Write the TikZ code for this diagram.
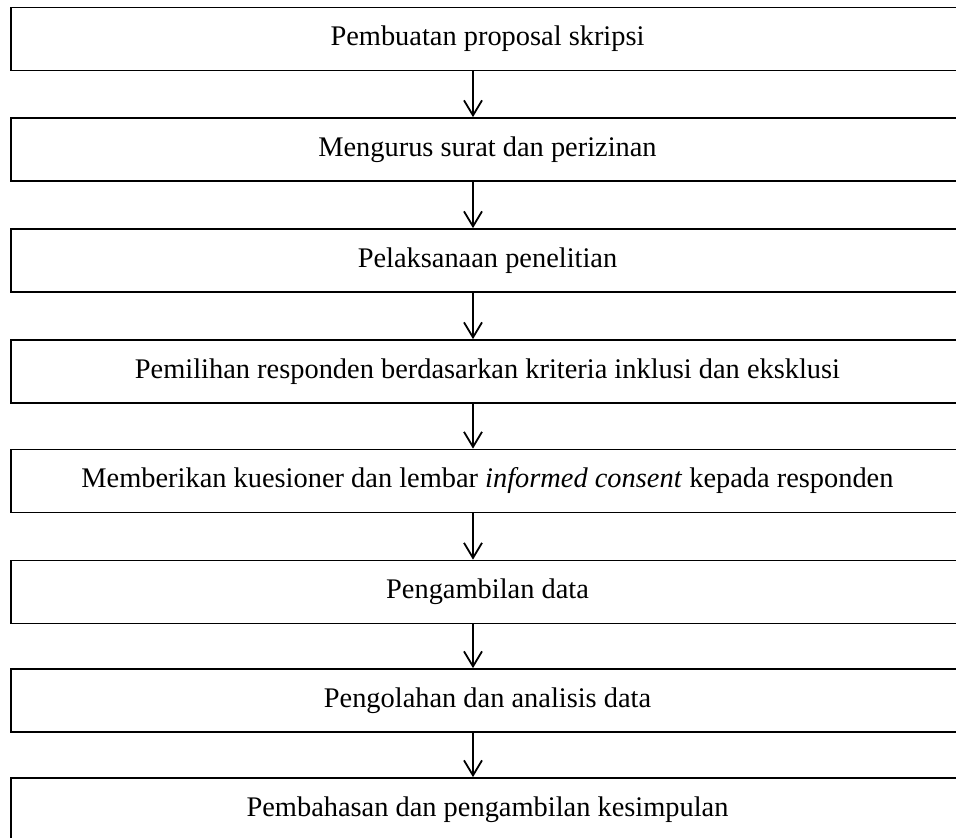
\documentclass[tikz,border=0pt]{standalone}
\usepackage{fontspec}
\setmainfont{Liberation Serif}
\usetikzlibrary{arrows.meta}
\begin{document}
\begin{tikzpicture}[x=1pt, y=-1pt, line width=1.8pt,
  stepbox/.style={shape=rectangle, draw, minimum width=953pt, minimum height=63pt,
    inner sep=0pt, font=\fontsize{28.4}{34}\selectfont},
  >={Straight Barb[length=15pt, width=18pt]}]
\clip (0, 0) rectangle (956, 838);
\node at (487.5, 39) [stepbox] (prop) {Pembuatan proposal skripsi};
\node at (487.5, 149.5) [stepbox] (izin) {Mengurus surat dan perizinan};
\node at (487.5, 260.5) [stepbox] (lak) {Pelaksanaan penelitian};
\node at (487.5, 371.5) [stepbox] (pilih) {Pemilihan responden berdasarkan kriteria inklusi dan eksklusi};
\node at (487.5, 481) [stepbox] (kues) {Memberikan kuesioner dan lembar \textit{informed consent} kepada responden};
\node at (487.5, 592) [stepbox] (ambil) {Pengambilan data};
\node at (487.5, 700.5) [stepbox] (olah) {Pengolahan dan analisis data};
\node at (487.5, 809.5) [stepbox] (bahas) {Pembahasan dan pengambilan kesimpulan};
\coordinate (ax) at (473, 0);
\draw [->] (prop.south -| ax) to (izin.north -| ax);
\draw [->] (izin.south -| ax) to (lak.north -| ax);
\draw [->] (lak.south -| ax) to (pilih.north -| ax);
\draw [->] (pilih.south -| ax) to (kues.north -| ax);
\draw [->] (kues.south -| ax) to (ambil.north -| ax);
\draw [->] (ambil.south -| ax) to (olah.north -| ax);
\draw [->] (olah.south -| ax) to (bahas.north -| ax);
\end{tikzpicture}
\end{document}
